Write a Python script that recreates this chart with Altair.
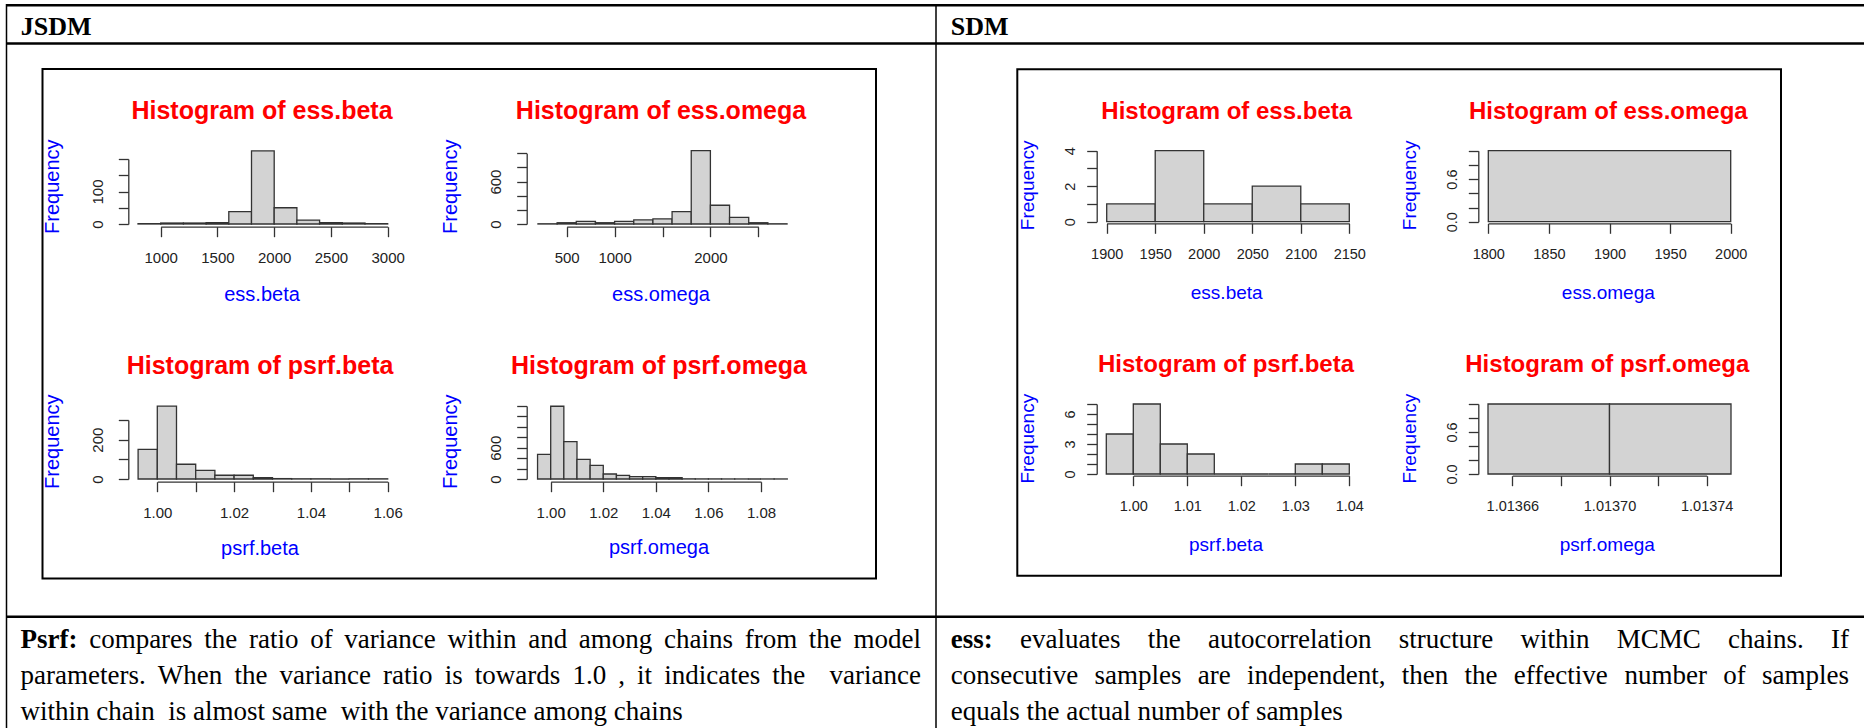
import altair as alt
import pandas as pd

W, H = 1864, 728
SANS = "Liberation Sans"
SERIF = "Liberation Serif"
INK = "#333333"

# ---------------- histogram counts ----------------
# JSDM
jsdm_ess_beta_start, jsdm_ess_beta_binwidth = 800, 200
jsdm_ess_beta_counts = [1, 3, 3, 4, 38, 225, 50, 12, 4, 3, 1]
jsdm_ess_omega_start, jsdm_ess_omega_binwidth = 200, 200
jsdm_ess_omega_counts = [3, 18, 38, 18, 38, 57, 72, 175, 1037, 265, 95, 18, 3]
jsdm_psrf_beta_start, jsdm_psrf_beta_binwidth = 0.995, 0.005
jsdm_psrf_beta_counts = [151, 371, 75, 44, 19, 19, 7, 2, 1, 1, 0, 1, 1]
jsdm_psrf_omega_start, jsdm_psrf_omega_binwidth = 0.995, 0.005
jsdm_psrf_omega_counts = [473, 1395, 716, 377, 262, 96, 70, 45, 45, 26, 26, 3, 2, 2, 1, 1, 0, 1, 1]
# SDM
sdm_ess_beta_start, sdm_ess_beta_binwidth = 1900, 50
sdm_ess_beta_counts = [1, 4, 1, 2, 1]
sdm_ess_omega_start, sdm_ess_omega_binwidth = 1800, 200
sdm_ess_omega_counts = [1]
sdm_psrf_beta_start, sdm_psrf_beta_binwidth = 0.995, 0.005
sdm_psrf_beta_counts = [4, 7, 3, 2, 0, 0, 0, 1, 1]
sdm_psrf_omega_start, sdm_psrf_omega_binwidth = 1.01365, 0.00005
sdm_psrf_omega_counts = [1, 1]

# ---------------- axis ticks and the labels printed on them ----------------
jsdm_ess_beta_xticks = [1000, 1500, 2000, 2500, 3000]
jsdm_ess_beta_xlabels = ["1000", "1500", "2000", "2500", "3000"]
jsdm_ess_beta_yticks = [0, 50, 100, 150, 200]
jsdm_ess_beta_ylabels = ["0", "100"]

jsdm_ess_omega_xticks = [500, 1000, 1500, 2000, 2500]
jsdm_ess_omega_xlabels = ["500", "1000", "2000"]
jsdm_ess_omega_yticks = [0, 200, 400, 600, 800, 1000]
jsdm_ess_omega_ylabels = ["0", "600"]

jsdm_psrf_beta_xticks = [1.00, 1.01, 1.02, 1.03, 1.04, 1.05, 1.06]
jsdm_psrf_beta_xlabels = ["1.00", "1.02", "1.04", "1.06"]
jsdm_psrf_beta_yticks = [0, 100, 200, 300]
jsdm_psrf_beta_ylabels = ["0", "200"]

jsdm_psrf_omega_xticks = [1.00, 1.02, 1.04, 1.06, 1.08]
jsdm_psrf_omega_xlabels = ["1.00", "1.02", "1.04", "1.06", "1.08"]
jsdm_psrf_omega_yticks = [0, 200, 400, 600, 800, 1000, 1200, 1400]
jsdm_psrf_omega_ylabels = ["0", "600"]

sdm_ess_beta_xticks = [1900, 1950, 2000, 2050, 2100, 2150]
sdm_ess_beta_xlabels = ["1900", "1950", "2000", "2050", "2100", "2150"]
sdm_ess_beta_yticks = [0, 1, 2, 3, 4]
sdm_ess_beta_ylabels = ["0", "2", "4"]

sdm_ess_omega_xticks = [1800, 1850, 1900, 1950, 2000]
sdm_ess_omega_xlabels = ["1800", "1850", "1900", "1950", "2000"]
sdm_ess_omega_yticks = [0.0, 0.2, 0.4, 0.6, 0.8, 1.0]
sdm_ess_omega_ylabels = ["0.0", "0.6"]

sdm_psrf_beta_xticks = [1.00, 1.01, 1.02, 1.03, 1.04]
sdm_psrf_beta_xlabels = ["1.00", "1.01", "1.02", "1.03", "1.04"]
sdm_psrf_beta_yticks = [0, 1, 2, 3, 4, 5, 6, 7]
sdm_psrf_beta_ylabels = ["0", "3", "6"]

sdm_psrf_omega_xticks = [1.01366, 1.01368, 1.01370, 1.01372, 1.01374]
sdm_psrf_omega_xlabels = ["1.01366", "1.01370", "1.01374"]
sdm_psrf_omega_yticks = [0.0, 0.2, 0.4, 0.6, 0.8, 1.0]
sdm_psrf_omega_ylabels = ["0.0", "0.6"]

# ---------------- table text ----------------
header_left = "JSDM"
header_right = "SDM"
left_lines = [
    "Psrf: compares the ratio of variance within and among chains from the model",
    "parameters. When the variance ratio is towards 1.0 , it indicates the  variance",
    "within chain  is almost same  with the variance among chains",
]
right_lines = [
    "ess: evaluates the autocorrelation structure within MCMC chains. If",
    "consecutive samples are independent, then the effective number of samples",
    "equals the actual number of samples",
]
bold_words = {"Psrf:", "ess:"}

ONE = alt.Data(values=[{"k": 0}])


def text_mark(text, x, y, size, font=SANS, color="black", weight="normal",
              align="center", baseline="alphabetic", angle=None):
    kw = dict(text=text, font=font, fontSize=size, color=color,
              fontWeight=weight, align=align, baseline=baseline)
    if angle is not None:
        kw["angle"] = angle
    return alt.Chart(ONE).mark_text(**kw).encode(x=alt.value(x), y=alt.value(y))


def rule(x1, y1, x2, y2, w=1.5, color="black"):
    return alt.Chart(ONE).mark_rule(color=color, strokeWidth=w).encode(
        x=alt.value(x1), x2=alt.value(x2), y=alt.value(y1), y2=alt.value(y2))


def box(x1, y1, x2, y2, w=2):
    return alt.Chart(ONE).mark_rect(filled=False, stroke="black", strokeWidth=w).encode(
        x=alt.value(x1), x2=alt.value(x2), y=alt.value(y1), y2=alt.value(y2))


def shown(labels):
    lst = ",".join("'%s'" % s for s in labels)
    return "indexof([%s], datum.label) >= 0 ? datum.label : ''" % lst


def histogram(key, name, start, binwidth, counts, xticks, xlabels, yticks, ylabels, L):
    df = pd.DataFrame({
        "lo": [start + i * binwidth for i in range(len(counts))],
        "hi": [start + (i + 1) * binwidth for i in range(len(counts))],
        "n": counts,
        "zero": [0] * len(counts),
    })
    xaxis = alt.Axis(
        orient="bottom", offset=L["ax_y"] - H, values=xticks, format=L["xfmt"],
        labelExpr=shown(xlabels), title=None, grid=False, tickSize=10,
        labelPadding=21, labelBaseline="middle", labelAlign="center",
        labelFlush=False, labelOverlap=False, labelFont=SANS,
        labelFontSize=L["lab_fs"], labelColor="#222222",
        domainColor=INK, tickColor=INK, domainWidth=1.3, tickWidth=1.3)
    yaxis = alt.Axis(
        orient="left", offset=-L["ay_x"], values=yticks, format=L["yfmt"],
        labelExpr=shown(ylabels), title=None, grid=False, tickSize=10,
        labelPadding=L["ypad"], labelAngle=270, labelAlign="center",
        labelBaseline="middle", labelFlush=False, labelOverlap=False,
        labelFont=SANS, labelFontSize=L["lab_fs"], labelColor="#222222",
        domainColor=INK, tickColor=INK, domainWidth=1.3, tickWidth=1.3)
    bars = alt.Chart(df, name=key).mark_rect(
        fill="#D3D3D3", stroke=INK, strokeWidth=1.3
    ).encode(
        x=alt.X("lo:Q", scale=alt.Scale(domain=[xticks[0], xticks[-1]], range=L["xr"],
                                        nice=False, zero=False), axis=xaxis),
        x2="hi:Q",
        y=alt.Y("n:Q", scale=alt.Scale(domain=[yticks[0], yticks[-1]], range=L["yr"],
                                       nice=False, zero=False), axis=yaxis),
        y2="zero:Q",
    )
    title = text_mark("Histogram of " + name, L["tx"], L["ty"], L["t_fs"],
                      color="red", weight="bold")
    xlab = text_mark(name, L["tx"], L["xl_y"], L["a_fs"], color="blue")
    ylab = text_mark("Frequency", L["yl_x"], L["yl_y"], L["a_fs"], color="blue",
                     angle=270)
    return [bars, title, xlab, ylab]


# pixel layout of each panel inside the two framed figures
J = dict(lab_fs=15, t_fs=25, a_fs=20, ypad=21)
S = dict(lab_fs=14.5, t_fs=24, a_fs=19, ypad=16)
layouts = {
    "jsdm_ess_beta": dict(J, xr=[160.7, 387.7], yr=[224, 159], ax_y=226.7, ay_x=128.3,
                          tx=262, ty=119.3, xl_y=300.7, yl_x=59, yl_y=186.7,
                          xfmt="d", yfmt="d"),
    "jsdm_ess_omega": dict(J, xr=[566.7, 758.3], yr=[224, 153.3], ax_y=226.7, ay_x=526.7,
                           tx=661, ty=119.3, xl_y=300.7, yl_x=457, yl_y=186.7,
                           xfmt="d", yfmt="d"),
    "jsdm_psrf_beta": dict(J, xr=[157.3, 387.7], yr=[479, 420], ax_y=481.7, ay_x=128.3,
                           tx=260, ty=374, xl_y=555, yl_x=59, yl_y=441.7,
                           xfmt=".2f", yfmt="d"),
    "jsdm_psrf_omega": dict(J, xr=[550.7, 761], yr=[479, 406], ax_y=481.7, ay_x=526.7,
                            tx=659, ty=374, xl_y=554, yl_x=457, yl_y=441.7,
                            xfmt=".2f", yfmt="d"),
    "sdm_ess_beta": dict(S, xr=[1106.7, 1349.3], yr=[221.7, 150.7], ax_y=223.3, ay_x=1096.7,
                         tx=1226.7, ty=119.3, xl_y=299, yl_x=1034, yl_y=185.3,
                         xfmt="d", yfmt="d"),
    "sdm_ess_omega": dict(S, xr=[1488.3, 1730.7], yr=[221.7, 150.7], ax_y=223.3, ay_x=1478.3,
                          tx=1608.3, ty=119.3, xl_y=299, yl_x=1416, yl_y=185.3,
                          xfmt="d", yfmt=".1f"),
    "sdm_psrf_beta": dict(S, xr=[1133.3, 1349.3], yr=[474, 404], ax_y=475.7, ay_x=1096.7,
                          tx=1226, ty=371.7, xl_y=550.7, yl_x=1034, yl_y=438.7,
                          xfmt=".2f", yfmt="d"),
    "sdm_psrf_omega": dict(S, xr=[1512.3, 1706.7], yr=[474, 404], ax_y=475.7, ay_x=1478.3,
                           tx=1607.3, ty=371.7, xl_y=550.7, yl_x=1416, yl_y=438.7,
                           xfmt=".5f", yfmt=".1f"),
}

panels = [
    ("jsdm_ess_beta", "ess.beta", jsdm_ess_beta_start, jsdm_ess_beta_binwidth, jsdm_ess_beta_counts,
     jsdm_ess_beta_xticks, jsdm_ess_beta_xlabels, jsdm_ess_beta_yticks, jsdm_ess_beta_ylabels),
    ("jsdm_ess_omega", "ess.omega", jsdm_ess_omega_start, jsdm_ess_omega_binwidth, jsdm_ess_omega_counts,
     jsdm_ess_omega_xticks, jsdm_ess_omega_xlabels, jsdm_ess_omega_yticks, jsdm_ess_omega_ylabels),
    ("jsdm_psrf_beta", "psrf.beta", jsdm_psrf_beta_start, jsdm_psrf_beta_binwidth, jsdm_psrf_beta_counts,
     jsdm_psrf_beta_xticks, jsdm_psrf_beta_xlabels, jsdm_psrf_beta_yticks, jsdm_psrf_beta_ylabels),
    ("jsdm_psrf_omega", "psrf.omega", jsdm_psrf_omega_start, jsdm_psrf_omega_binwidth, jsdm_psrf_omega_counts,
     jsdm_psrf_omega_xticks, jsdm_psrf_omega_xlabels, jsdm_psrf_omega_yticks, jsdm_psrf_omega_ylabels),
    ("sdm_ess_beta", "ess.beta", sdm_ess_beta_start, sdm_ess_beta_binwidth, sdm_ess_beta_counts,
     sdm_ess_beta_xticks, sdm_ess_beta_xlabels, sdm_ess_beta_yticks, sdm_ess_beta_ylabels),
    ("sdm_ess_omega", "ess.omega", sdm_ess_omega_start, sdm_ess_omega_binwidth, sdm_ess_omega_counts,
     sdm_ess_omega_xticks, sdm_ess_omega_xlabels, sdm_ess_omega_yticks, sdm_ess_omega_ylabels),
    ("sdm_psrf_beta", "psrf.beta", sdm_psrf_beta_start, sdm_psrf_beta_binwidth, sdm_psrf_beta_counts,
     sdm_psrf_beta_xticks, sdm_psrf_beta_xlabels, sdm_psrf_beta_yticks, sdm_psrf_beta_ylabels),
    ("sdm_psrf_omega", "psrf.omega", sdm_psrf_omega_start, sdm_psrf_omega_binwidth, sdm_psrf_omega_counts,
     sdm_psrf_omega_xticks, sdm_psrf_omega_xlabels, sdm_psrf_omega_yticks, sdm_psrf_omega_ylabels),
]

# ---------------- justified paragraph text ----------------
# Times-compatible advance widths (per em) for Liberation Serif
REG = {" ": .25, ".": .25, ",": .25, ":": .278, "0": .5, "1": .5,
       "C": .667, "I": .333, "M": .889, "P": .556, "W": .944,
       "a": .444, "b": .5, "c": .444, "d": .5, "e": .444, "f": .333, "g": .5,
       "h": .5, "i": .278, "j": .278, "k": .5, "l": .278, "m": .778, "n": .5,
       "o": .5, "p": .5, "q": .5, "r": .333, "s": .389, "t": .278, "u": .5,
       "v": .5, "w": .722, "x": .5, "y": .5, "z": .444}
BOLD = {"P": .611, "s": .389, "r": .444, "f": .333, ":": .333, "e": .444}
PARA_FS = 27


def word_width(word, bold):
    table = BOLD if bold else REG
    return sum(table.get(ch, REG.get(ch, .5)) for ch in word) * PARA_FS


def paragraph(lines, x_left, x_right, baselines):
    """Justify every line but the last; each space stretches by the same amount."""
    out = []
    for li, (line, yb) in enumerate(zip(lines, baselines)):
        last = li == len(lines) - 1
        tokens = line.split(" ")
        widths = [word_width(t, t in bold_words) for t in tokens]
        if last:
            gap = REG[" "] * PARA_FS
        else:
            gap = (x_right - x_left - sum(widths)) / (len(tokens) - 1)
        x = x_left
        for t, wd in zip(tokens, widths):
            if t:
                out.append(text_mark(t, x, yb, PARA_FS, font=SERIF, align="left",
                                     weight="bold" if t in bold_words else "normal"))
            x += wd + gap
    return out


layers = []
# table grid
layers += [
    rule(6, 5.3, W, 5.3, w=2.5),
    rule(6.5, 4, 6.5, H, w=1.5),
    rule(6, 43.5, W, 43.5, w=2.5),
    rule(936, 4, 936, H, w=1.5),
    rule(6, 616.7, W, 616.7, w=2.5),
]
layers += [
    text_mark(header_left, 20.7, 35, 26, font=SERIF, weight="bold", align="left"),
    text_mark(header_right, 950.7, 35, 26, font=SERIF, weight="bold", align="left"),
]
# figure frames
layers += [box(42.5, 69, 876, 578.5), box(1017.3, 69.3, 1781, 575.7)]

for p in panels:
    layers += histogram(*p, layouts[p[0]])

layers += paragraph(left_lines, 20.5, 921, [648.3, 684.3, 720])
layers += paragraph(right_lines, 950.7, 1849, [648.3, 684.3, 720])

chart = alt.layer(*layers).resolve_scale(
    x="independent", y="independent"
).resolve_axis(
    x="independent", y="independent"
).properties(
    width=W, height=H, padding=0, autosize="none", background="white"
).configure_view(stroke=None)

chart.save("out.html", embed_options={"renderer": "svg", "actions": False})
